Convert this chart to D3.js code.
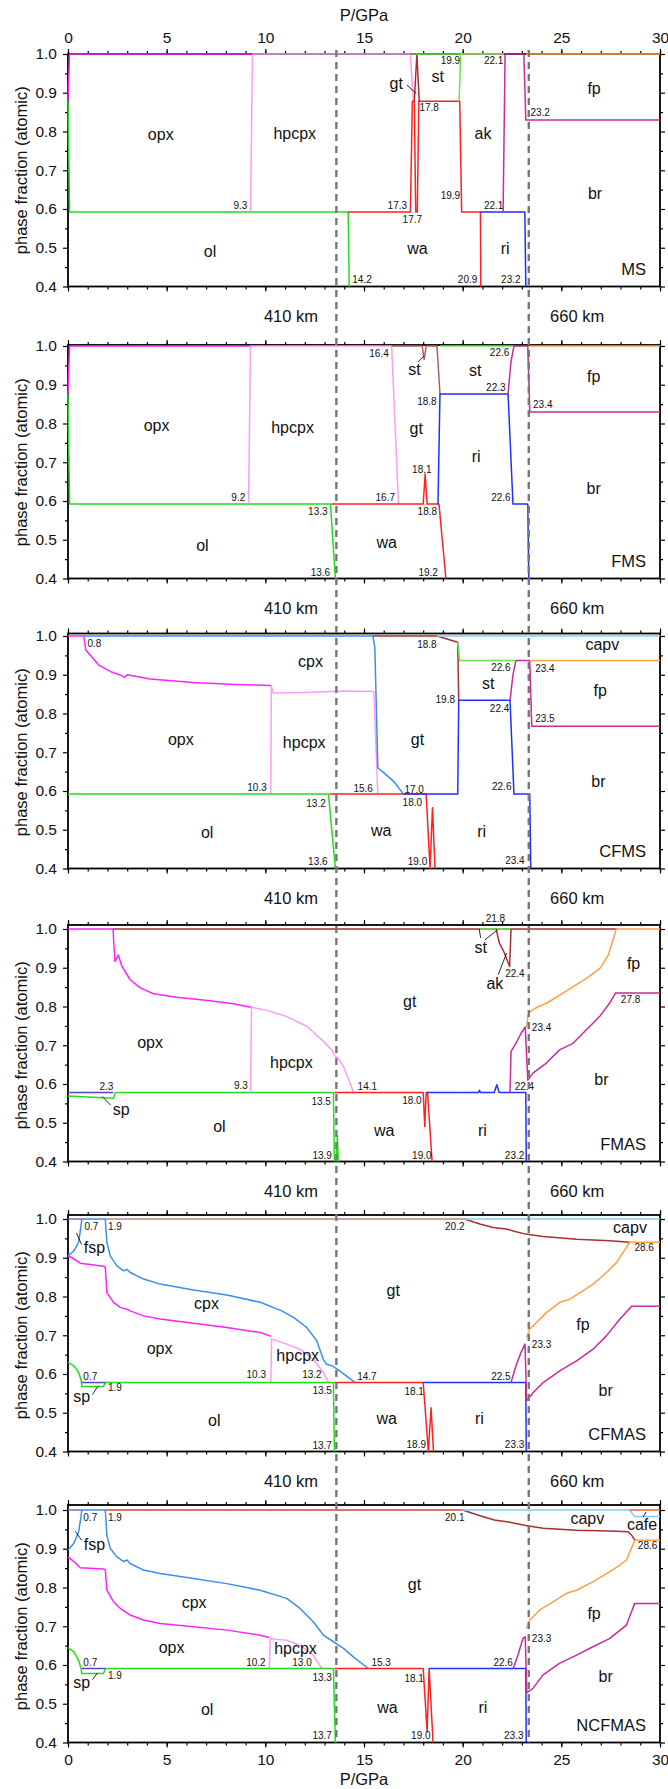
<!DOCTYPE html>
<html>
<head>
<meta charset="utf-8">
<script src="https://cdn.jsdelivr.net/npm/d3@7"></script>
<style>
  body { margin: 0; background: #fff; }
  svg { display: block; font-family: "Liberation Sans", Arial, sans-serif; }
</style>
</head>
<body>
<svg id="chart" width="668" height="1789"></svg>
<script>
// ---- data ----------------------------------------------------------------
const panelNames = ['MS', 'FMS', 'CFMS', 'FMAS', 'CFMAS', 'NCFMAS'];
const pMajorTicks = d3.range(0, 31, 5);
const pMinorTicks = d3.range(0, 31, 1);
const fracMajorTicks = [0.4, 0.5, 0.6, 0.7, 0.8, 0.9, 1.0];
const fracMinorTicks = [0.45, 0.55, 0.65, 0.75, 0.85, 0.95];
const discontinuities = [13.6, 23.35];            // P of the 410 / 660 km jumps
const depthLabels = [['410 km', 11.3], ['660 km', 25.8]];

const phaseColor = {
  ol: '#22dd22', opx: '#ff22ff', hpcpx: '#ff9cf0', cpx: '#3a8ef0',
  gt: '#a83030', wa: '#ff2020', ri: '#2030ff', st: '#66e844',
  ak: '#b8ec70', br: '#cc2a99', fp: '#ffa040', capv: '#80ccff',
  sp: '#5544cc', fsp: '#8866bb', cafe: '#f06030'
};

// lines: [phase, points [P, fraction], optional colour override]
const msLines = [
  ['ol', [[0, 0.88], [0.08, 0.592], [14.2, 0.592], [14.25, 0.4]]],
  ['opx', [[0, 0.88], [0.08, 1.0], [9.3, 1.0]]],
  ['hpcpx', [[9.25, 0.592], [9.35, 1.0], [17.35, 1.0], [17.5, 0.88]]],
  ['wa', [[14.2, 0.592], [17.35, 0.592], [17.45, 0.878], [17.55, 0.878], [17.62, 0.592], [17.7, 0.592], [17.78, 0.878], [19.85, 0.878], [19.95, 0.592], [20.9, 0.592], [20.92, 0.4]]],
  ['gt', [[17.55, 0.878], [17.68, 1.0], [17.8, 0.878]]],
  ['st', [[17.4, 1.0], [19.9, 1.0], [19.82, 0.878]]],
  ['ak', [[19.9, 1.0], [22.1, 1.0]]],
  ['ri', [[20.9, 0.592], [23.15, 0.592], [23.2, 0.4]]],
  ['br', [[22.05, 0.592], [22.15, 1.0], [23.1, 1.0], [23.2, 0.83], [30, 0.83]]],
  ['fp', [[23.2, 1.0], [30, 1.0]]]
];
const msLabels = [
  ['opx', 4.7, 0.792], ['hpcpx', 11.49, 0.794], ['gt', 16.63, 0.925], ['st', 18.73, 0.941],
  ['ak', 21.03, 0.794], ['fp', 26.66, 0.912], ['br', 26.71, 0.639], ['ol', 7.2, 0.49],
  ['wa', 17.71, 0.499], ['ri', 22.15, 0.499],
  ['9.3', 8.74, 0.609], ['17.3', 16.69, 0.609], ['17.7', 17.45, 0.572], ['17.8', 18.3, 0.862],
  ['19.9', 19.38, 0.983], ['19.9', 19.38, 0.635], ['22.1', 21.57, 0.983], ['22.1', 21.57, 0.609],
  ['23.2', 23.93, 0.849], ['14.2', 14.9, 0.419], ['20.9', 20.25, 0.419], ['23.2', 22.44, 0.419]
];
const msLeaders = [[[17.17, 0.92], [17.65, 0.898]]];

const fmsLines = [
  ['ol', [[0, 0.876], [0.08, 0.592], [13.3, 0.592], [13.55, 0.4]]],
  ['opx', [[0, 0.876], [0.08, 1.0], [9.2, 1.0]]],
  ['hpcpx', [[9.15, 0.592], [9.25, 1.0], [16.4, 1.0], [16.75, 0.592]]],
  ['wa', [[13.35, 0.592], [18.0, 0.592], [18.1, 0.67], [18.2, 0.592], [18.8, 0.592], [19.15, 0.4]]],
  ['gt', [[16.4, 1.0], [17.95, 1.0], [18.05, 0.965], [18.15, 1.0], [18.7, 1.0], [18.85, 0.876]], '#b06060'],
  ['ri', [[18.75, 0.592], [18.85, 0.876], [22.3, 0.876], [22.55, 0.592], [23.3, 0.592], [23.35, 0.4]]],
  ['st', [[18.85, 1.0], [22.6, 1.0]]],
  ['br', [[22.3, 0.876], [22.45, 0.96], [22.6, 1.0], [23.3, 1.0], [23.4, 0.83], [30, 0.83]]],
  ['fp', [[23.4, 1.0], [30, 1.0]]]
];
const fmsLabels = [
  ['16.4', 15.76, 0.981], ['st', 17.56, 0.939], ['st', 20.64, 0.938], ['22.6', 21.87, 0.983],
  ['22.3', 21.68, 0.892], ['18.8', 18.19, 0.858], ['fp', 26.64, 0.922], ['23.4', 24.06, 0.85],
  ['opx', 4.49, 0.795], ['hpcpx', 11.38, 0.789], ['gt', 17.65, 0.788], ['ri', 20.68, 0.716],
  ['18.1', 17.93, 0.681], ['br', 26.64, 0.633], ['9.2', 8.63, 0.608], ['16.7', 16.08, 0.608],
  ['22.6', 21.94, 0.608], ['13.3', 12.66, 0.572], ['18.8', 18.21, 0.572], ['ol', 6.81, 0.484],
  ['wa', 16.15, 0.493], ['13.6', 12.79, 0.415], ['19.2', 18.25, 0.415]
];
const fmsLeaders = [[[17.72, 0.958], [18.05, 0.975]]];

const cfmsLines = [
  ['opx', [[0, 1.0], [0.8, 1.0], [0.9, 0.964], [1.56, 0.925], [2.21, 0.907], [2.75, 0.897], [2.86, 0.893], [3.0, 0.9], [4.16, 0.889], [6.33, 0.88], [8.5, 0.875], [10.3, 0.872]]],
  ['hpcpx', [[10.28, 0.592], [10.3, 0.872], [10.4, 0.853], [12, 0.854], [14, 0.858], [15.5, 0.857], [15.7, 0.592]]],
  ['cpx', [[0.8, 1.0], [15.45, 1.0], [15.55, 0.97], [15.7, 0.66], [16.1, 0.643], [16.5, 0.625], [17.0, 0.592]]],
  ['ol', [[0, 0.592], [13.2, 0.592], [13.55, 0.4]]],
  ['wa', [[13.25, 0.592], [18.15, 0.592], [18.35, 0.4], [18.47, 0.557], [18.6, 0.4]]],
  ['ri', [[17.0, 0.592], [19.75, 0.592], [19.8, 0.834], [22.4, 0.834], [22.6, 0.592], [23.4, 0.592], [23.45, 0.4]]],
  ['gt', [[15.45, 1.0], [18.7, 1.0], [19.75, 0.984], [19.8, 0.834]]],
  ['st', [[19.75, 0.984], [19.85, 0.937], [22.65, 0.937]]],
  ['br', [[22.4, 0.834], [22.55, 0.9], [22.7, 0.937], [23.4, 0.937], [23.5, 0.767], [30, 0.767]]],
  ['fp', [[23.45, 0.937], [30, 0.937]]],
  ['capv', [[18.7, 1.0], [30, 1.0]]]
];
const cfmsLabels = [
  ['0.8', 1.34, 0.981], ['cpx', 12.29, 0.933], ['18.8', 18.19, 0.979], ['capv', 27.08, 0.977],
  ['22.6', 21.94, 0.92], ['23.4', 24.17, 0.916], ['st', 21.29, 0.877], ['fp', 26.97, 0.86],
  ['19.8', 19.12, 0.836], ['22.4', 21.87, 0.814], ['23.5', 24.17, 0.786], ['opx', 5.72, 0.732],
  ['hpcpx', 11.97, 0.726], ['gt', 17.71, 0.732], ['br', 26.88, 0.625], ['10.3', 9.58, 0.609],
  ['15.6', 14.96, 0.607], ['17.0', 17.54, 0.605], ['22.6', 21.98, 0.612], ['13.2', 12.57, 0.569],
  ['18.0', 17.45, 0.57], ['ol', 7.05, 0.493], ['wa', 15.87, 0.497], ['ri', 20.96, 0.495],
  ['13.6', 12.66, 0.417], ['19.0', 17.71, 0.418], ['23.4', 22.65, 0.42]
];
const cfmsLeaders = [];

const fmasLines = [
  ['sp', [[0, 0.578], [2.3, 0.578]]],
  ['ol', [[0, 0.569], [2.3, 0.563], [2.4, 0.578], [13.45, 0.578], [13.5, 0.4]]],
  ['ol', [[13.6, 0.4], [13.65, 0.466], [13.7, 0.4]]],
  ['opx', [[0, 1.0], [2.28, 1.0], [2.38, 0.916], [2.55, 0.933], [2.73, 0.904], [3.15, 0.869], [3.66, 0.848], [4.33, 0.833], [5.5, 0.824], [7.2, 0.815], [8.38, 0.807], [9.28, 0.798]]],
  ['hpcpx', [[9.25, 0.578], [9.3, 0.798], [10.07, 0.79], [11.08, 0.774], [12.1, 0.749], [12.94, 0.71], [13.37, 0.688], [13.53, 0.671], [13.65, 0.669], [13.96, 0.645], [14.3, 0.602], [14.46, 0.578]]],
  ['gt', [[2.28, 1.0], [27.8, 1.0]]],
  ['wa', [[13.5, 0.578], [18.0, 0.578], [18.08, 0.49], [18.15, 0.578], [18.22, 0.578], [18.45, 0.4]]],
  ['ri', [[18.2, 0.578], [20.8, 0.578], [20.85, 0.584], [20.9, 0.578], [21.6, 0.578], [21.73, 0.598], [21.85, 0.578], [23.2, 0.578], [23.22, 0.4]]],
  ['st', [[20.85, 1.0], [22.45, 1.0]]],
  ['gt', [[21.7, 1.0], [21.85, 0.965], [22.1, 0.94], [22.38, 0.903], [22.45, 1.0]]],
  ['br', [[22.4, 0.578], [22.45, 0.684], [22.7, 0.705], [22.96, 0.731], [23.17, 0.747], [23.3, 0.61], [23.56, 0.628], [24.24, 0.654], [24.91, 0.688], [25.59, 0.705], [26.27, 0.74], [26.94, 0.774], [27.45, 0.809], [27.75, 0.835], [30, 0.835]]],
  ['fp', [[23.25, 0.747], [23.3, 0.775], [23.42, 0.787], [23.76, 0.798], [24.27, 0.809], [24.94, 0.83], [25.62, 0.852], [26.29, 0.873], [26.97, 0.899], [27.39, 0.934], [27.65, 0.977], [27.78, 1.0], [30, 1.0]]]
];
const fmasLabels = [
  ['21.8', 21.66, 1.028], ['st', 20.92, 0.953], ['ak', 21.63, 0.86], ['22.4', 22.65, 0.886],
  ['gt', 17.32, 0.813], ['fp', 28.66, 0.912], ['27.8', 28.51, 0.819], ['23.4', 24.0, 0.745],
  ['opx', 4.16, 0.707], ['hpcpx', 11.32, 0.655], ['br', 27.03, 0.612], ['2.3', 1.95, 0.593],
  ['9.3', 8.76, 0.595], ['14.1', 15.17, 0.593], ['22.4', 23.13, 0.593], ['sp', 2.69, 0.534],
  ['13.5', 12.83, 0.555], ['18.0', 17.43, 0.558], ['ol', 7.67, 0.49], ['wa', 16.02, 0.479],
  ['ri', 21.0, 0.479], ['13.9', 12.88, 0.415], ['19.0', 17.93, 0.415], ['23.2', 22.63, 0.415]
];
const fmasLeaders = [
  [[20.91, 0.977], [20.84, 1.0]], [[21.13, 0.972], [21.75, 0.997]],
  [[21.8, 0.882], [22.23, 0.938]], [[1.73, 0.568], [2.17, 0.545]]
];

const cfmasLines = [
  ['fsp', [[0, 1.0], [0.7, 1.0]]],
  ['cpx', [[0, 0.905], [0.3, 0.918], [0.54, 0.94], [0.66, 0.983], [0.7, 1.0], [1.89, 1.0], [1.97, 0.94], [2.14, 0.905], [2.48, 0.879], [2.82, 0.866], [2.99, 0.87], [3.15, 0.862], [3.83, 0.845], [4.67, 0.832], [6.36, 0.817], [8.05, 0.804], [9.74, 0.785], [10.83, 0.763], [11.43, 0.746], [12.1, 0.72], [12.6, 0.686], [12.94, 0.638], [13.1, 0.625], [13.4, 0.621], [13.77, 0.608], [14.1, 0.595], [14.55, 0.578]]],
  ['opx', [[0, 0.905], [0.2, 0.9], [0.62, 0.886], [1.8, 0.878], [1.89, 0.876], [1.97, 0.81], [2.31, 0.785], [2.65, 0.772], [2.99, 0.767], [3.15, 0.763], [3.83, 0.75], [4.67, 0.742], [6.36, 0.731], [8.05, 0.72], [9.74, 0.707], [10.3, 0.697]]],
  ['hpcpx', [[10.28, 0.578], [10.32, 0.69], [10.58, 0.686], [11.08, 0.677], [11.76, 0.664], [12.44, 0.638], [12.94, 0.604], [13.2, 0.578]]],
  ['ol', [[0, 0.63], [0.3, 0.621], [0.54, 0.604], [0.66, 0.585], [0.7, 0.568], [1.8, 0.568], [1.9, 0.578], [13.45, 0.578], [13.5, 0.4]]],
  ['sp', [[0.7, 0.578], [1.9, 0.578]]],
  ['gt', [[1.9, 1.0], [20.1, 1.0]], '#c58080'],
  ['gt', [[20.1, 1.0], [20.87, 0.987], [21.54, 0.978], [22.21, 0.974], [22.71, 0.967], [23.19, 0.961], [24.08, 0.955], [25.77, 0.948], [27.46, 0.944], [28.47, 0.94]]],
  ['capv', [[20.1, 1.0], [30, 1.0]]],
  ['wa', [[13.5, 0.578], [18.0, 0.578], [18.26, 0.4], [18.4, 0.513], [18.52, 0.4]]],
  ['ri', [[18.0, 0.578], [23.2, 0.578], [23.22, 0.4]]],
  ['br', [[22.45, 0.578], [22.7, 0.621], [22.96, 0.656], [23.16, 0.677], [23.24, 0.531], [23.58, 0.552], [24.08, 0.578], [24.92, 0.608], [25.77, 0.634], [26.61, 0.664], [27.29, 0.699], [27.97, 0.742], [28.56, 0.775], [30, 0.775]]],
  ['fp', [[23.24, 0.694], [23.4, 0.716], [23.74, 0.733], [24.25, 0.759], [24.92, 0.785], [25.43, 0.793], [26.11, 0.815], [26.61, 0.832], [27.29, 0.862], [27.8, 0.888], [28.13, 0.914], [28.47, 0.94], [30, 0.94]]]
];
const cfmasLabels = [
  ['0.7', 1.19, 0.981], ['1.9', 2.38, 0.981], ['fsp', 1.34, 0.927], ['20.2', 19.6, 0.981],
  ['capv', 28.48, 0.977], ['28.6', 29.2, 0.927], ['gt', 16.48, 0.815], ['cpx', 7.02, 0.781],
  ['fp', 26.1, 0.729], ['opx', 4.64, 0.666], ['hpcpx', 11.64, 0.647], ['23.3', 24.0, 0.676],
  ['10.3', 9.54, 0.599], ['13.2', 12.36, 0.599], ['14.7', 15.15, 0.593], ['22.5', 21.94, 0.593],
  ['br', 27.25, 0.558], ['0.7', 1.13, 0.593], ['1.9', 2.38, 0.564], ['sp', 0.69, 0.541],
  ['13.5', 12.88, 0.558], ['18.1', 17.54, 0.556], ['ol', 7.41, 0.479], ['wa', 16.15, 0.485],
  ['ri', 20.85, 0.485], ['13.7', 12.88, 0.415], ['18.9', 17.65, 0.418], ['23.3', 22.63, 0.418]
];
const cfmasLeaders = [[[0.43, 0.964], [0.69, 0.934]], [[1.24, 0.547], [1.52, 0.569]]];

const ncfmasLines = [
  ['fsp', [[0, 1.0], [0.7, 1.0]]],
  ['cpx', [[0, 0.897], [0.3, 0.914], [0.54, 0.944], [0.66, 0.983], [0.7, 1.0], [1.89, 1.0], [1.97, 0.935], [2.14, 0.901], [2.48, 0.879], [2.82, 0.867], [2.99, 0.871], [3.15, 0.862], [3.83, 0.845], [4.67, 0.836], [6.36, 0.823], [8.05, 0.81], [9.74, 0.793], [11.08, 0.772], [11.76, 0.746], [12.44, 0.711], [12.94, 0.677], [13.45, 0.66], [13.96, 0.643], [14.46, 0.621], [15.22, 0.591]]],
  ['opx', [[0, 0.879], [0.3, 0.867], [0.62, 0.851], [1.8, 0.848], [1.89, 0.846], [1.97, 0.793], [2.31, 0.763], [2.65, 0.746], [3.15, 0.729], [3.83, 0.716], [4.67, 0.707], [6.36, 0.699], [8.05, 0.69], [9.74, 0.677], [10.2, 0.671]]],
  ['hpcpx', [[10.2, 0.591], [10.25, 0.668], [11.08, 0.664], [11.76, 0.651], [12.44, 0.625], [12.86, 0.591]]],
  ['ol', [[0, 0.645], [0.3, 0.634], [0.54, 0.612], [0.66, 0.591], [0.7, 0.578], [1.8, 0.578], [1.9, 0.591], [13.45, 0.591], [13.55, 0.4]]],
  ['sp', [[0.7, 0.591], [1.9, 0.591]]],
  ['gt', [[1.9, 1.0], [20.0, 1.0]], '#d04545'],
  ['gt', [[20.0, 1.0], [20.76, 0.987], [21.6, 0.974], [22.45, 0.968], [23.19, 0.96], [24.08, 0.953], [25.77, 0.948], [27.46, 0.946], [28.39, 0.944], [28.56, 0.935], [28.73, 0.922]]],
  ['capv', [[20.0, 1.0], [28.47, 1.0], [28.7, 0.983], [30, 0.983]]],
  ['cafe', [[28.47, 1.0], [30, 1.0]]],
  ['wa', [[13.5, 0.591], [18.0, 0.591], [18.2, 0.428], [18.3, 0.591], [18.5, 0.4]]],
  ['ri', [[18.3, 0.591], [23.2, 0.591], [23.22, 0.4]]],
  ['br', [[22.56, 0.591], [22.8, 0.625], [23.05, 0.668], [23.17, 0.673], [23.25, 0.529], [23.55, 0.539], [24.06, 0.574], [24.9, 0.604], [25.75, 0.625], [26.6, 0.647], [27.44, 0.668], [28.3, 0.703], [28.55, 0.737], [28.72, 0.759], [30, 0.759]]],
  ['fp', [[23.24, 0.694], [23.4, 0.716], [23.91, 0.742], [24.58, 0.763], [25.26, 0.785], [25.77, 0.793], [26.61, 0.815], [27.46, 0.841], [27.97, 0.858], [28.3, 0.871], [28.47, 0.892], [28.73, 0.922], [30, 0.922]]]
];
const ncfmasLabels = [
  ['0.7', 1.13, 0.981], ['1.9', 2.38, 0.981], ['fsp', 1.34, 0.91], ['20.1', 19.6, 0.981],
  ['capv', 26.32, 0.979], ['cafe', 29.09, 0.962], ['28.6', 29.37, 0.908], ['gt', 17.56, 0.809],
  ['cpx', 6.39, 0.762], ['fp', 26.66, 0.732], ['opx', 5.25, 0.646], ['hpcpx', 11.53, 0.643],
  ['23.3', 24.0, 0.669], ['10.2', 9.52, 0.606], ['13.0', 11.86, 0.606], ['15.3', 15.87, 0.606],
  ['22.6', 22.05, 0.606], ['br', 27.25, 0.571], ['0.7', 1.13, 0.606], ['1.9', 2.38, 0.572],
  ['sp', 0.69, 0.555], ['13.3', 12.88, 0.567], ['18.1', 17.54, 0.565], ['ol', 7.05, 0.485],
  ['wa', 16.19, 0.49], ['ri', 21.03, 0.49], ['13.7', 12.88, 0.417], ['19.0', 17.88, 0.417],
  ['23.3', 22.59, 0.417]
];
const ncfmasLeaders = [[[0.37, 0.945], [0.69, 0.922]], [[1.24, 0.562], [1.5, 0.58]], [[29.15, 0.982], [29.3, 0.995]]];

const panels = [
  { lines: msLines, labels: msLabels, leaders: msLeaders },
  { lines: fmsLines, labels: fmsLabels, leaders: fmsLeaders },
  { lines: cfmsLines, labels: cfmsLabels, leaders: cfmsLeaders },
  { lines: fmasLines, labels: fmasLabels, leaders: fmasLeaders },
  { lines: cfmasLines, labels: cfmasLabels, leaders: cfmasLeaders },
  { lines: ncfmasLines, labels: ncfmasLabels, leaders: ncfmasLeaders }
];

// ---- layout --------------------------------------------------------------
const svg = d3.select('#chart');
const x = d3.scaleLinear().domain([0, 30]).range([68, 660]);
const panelTop = [54, 346, 636, 929, 1219, 1510];
const panelH = 232.5;
const framePad = [0, 1, 2.5, 4, 4, 5];
const isNumber = (s) => /^[0-9.]+$/.test(s);

panels.forEach((p, i) => {
  const top = panelTop[i];
  const bottom = top + panelH;
  const y = d3.scaleLinear().domain([0.4, 1.0]).range([bottom, top]);
  const g = svg.append('g').attr('class', 'panel');

  // frame (under the data lines, which sit on top of it at 1.0)
  const frameTop = top - framePad[i];
  g.append('rect')
    .attr('x', x(0))
    .attr('y', frameTop)
    .attr('width', x(30) - x(0))
    .attr('height', bottom - frameTop)
    .attr('fill', 'none')
    .attr('stroke', '#000')
    .attr('stroke-width', 1.8);

  // axes
  const addAxis = (axis, transform, showLabels) => {
    const a = g.append('g').attr('transform', transform).call(axis);
    a.select('.domain').remove();
    a.selectAll('.tick line').attr('stroke', '#000').attr('stroke-width', 1.2);
    a.selectAll('.tick text')
      .attr('font-size', 15.5)
      .attr('font-family', '"Liberation Sans", Arial, sans-serif')
      .attr('fill', '#111');
    if (!showLabels) a.selectAll('.tick text').remove();
    return a;
  };
  addAxis(d3.axisTop(x).tickValues(pMinorTicks).tickSize(3), `translate(0,${frameTop})`, false);
  addAxis(d3.axisTop(x).tickValues(pMajorTicks).tickSize(5).tickPadding(6).tickFormat(d3.format('d')),
    `translate(0,${frameTop})`, i === 0);
  addAxis(d3.axisBottom(x).tickValues(pMinorTicks).tickSize(3), `translate(0,${bottom})`, false);
  addAxis(d3.axisBottom(x).tickValues(pMajorTicks).tickSize(5).tickPadding(6).tickFormat(d3.format('d')),
    `translate(0,${bottom})`, i === panels.length - 1);
  addAxis(d3.axisLeft(y).tickValues(fracMinorTicks).tickSize(3), `translate(${x(0)},0)`, false);
  addAxis(d3.axisLeft(y).tickValues(fracMajorTicks).tickSize(5).tickPadding(6).tickFormat(d3.format('.1f')),
    `translate(${x(0)},0)`, true);
  addAxis(d3.axisRight(y).tickValues(fracMinorTicks).tickSize(3), `translate(${x(30)},0)`, false);
  addAxis(d3.axisRight(y).tickValues(fracMajorTicks).tickSize(5), `translate(${x(30)},0)`, false);

  // data lines
  const line = d3.line().x((d) => x(d[0])).y((d) => y(d[1]));
  p.lines.forEach(([phase, pts, col]) => {
    g.append('path')
      .datum(pts)
      .attr('fill', 'none')
      .attr('stroke', col || phaseColor[phase])
      .attr('stroke-width', 1.5)
      .attr('stroke-linejoin', 'round')
      .attr('d', line);
  });

  // leader lines
  p.leaders.forEach((seg) => {
    g.append('path')
      .datum(seg)
      .attr('fill', 'none')
      .attr('stroke', '#111')
      .attr('stroke-width', 0.9)
      .attr('d', line);
  });

  // labels
  g.selectAll('text.lab')
    .data(p.labels)
    .join('text')
    .attr('class', 'lab')
    .attr('x', (d) => x(d[1]))
    .attr('y', (d) => y(d[2]))
    .attr('text-anchor', 'middle')
    .attr('dominant-baseline', 'central')
    .attr('font-size', (d) => (isNumber(d[0]) ? 10 : 16))
    .attr('fill', '#111')
    .text((d) => d[0]);

  // panel name
  g.append('text')
    .attr('x', 646)
    .attr('y', bottom - 18)
    .attr('text-anchor', 'end')
    .attr('dominant-baseline', 'central')
    .attr('font-size', 16.5)
    .attr('fill', '#111')
    .text(panelNames[i]);

  // y title
  g.append('text')
    .attr('transform', `translate(21,${(top + bottom) / 2}) rotate(-90)`)
    .attr('text-anchor', 'middle')
    .attr('dominant-baseline', 'central')
    .attr('font-size', 16.5)
    .attr('fill', '#111')
    .text('phase fraction (atomic)');

  // depth labels under every panel except the last
  if (i < panels.length - 1) {
    g.selectAll('text.depth')
      .data(depthLabels)
      .join('text')
      .attr('class', 'depth')
      .attr('x', (d) => x(d[1]))
      .attr('y', bottom + 29)
      .attr('text-anchor', 'middle')
      .attr('dominant-baseline', 'central')
      .attr('font-size', 16.5)
      .attr('fill', '#111')
      .text((d) => d[0]);
  }
});

// discontinuity markers through all panels
svg.selectAll('line.disc')
  .data(discontinuities)
  .join('line')
  .attr('class', 'disc')
  .attr('x1', (d) => x(d))
  .attr('x2', (d) => x(d))
  .attr('y1', 50)
  .attr('y2', panelTop[5] + panelH)
  .attr('stroke', '#777')
  .attr('stroke-width', 2.4)
  .attr('stroke-dasharray', '7,5');

// axis titles
svg.append('text')
  .attr('x', x(15)).attr('y', 15)
  .attr('text-anchor', 'middle').attr('dominant-baseline', 'central')
  .attr('font-size', 16.5).attr('fill', '#111')
  .text('P/GPa');
svg.append('text')
  .attr('x', x(15)).attr('y', 1779)
  .attr('text-anchor', 'middle').attr('dominant-baseline', 'central')
  .attr('font-size', 16.5).attr('fill', '#111')
  .text('P/GPa');
</script>
</body>
</html>
